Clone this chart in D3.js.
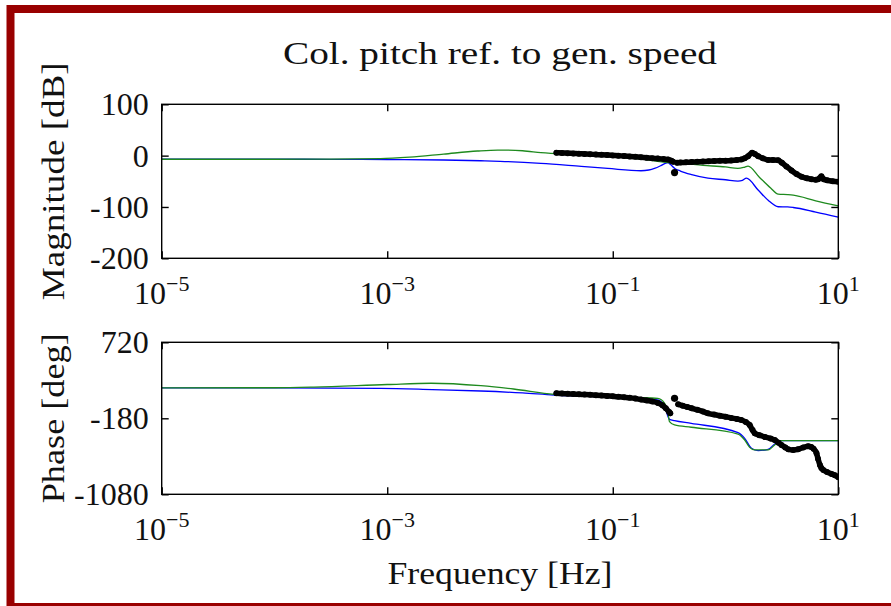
<!DOCTYPE html>
<html>
<head>
<meta charset="utf-8">
<script src="https://cdn.jsdelivr.net/npm/d3@7"></script>
<style>
  html, body { margin: 0; padding: 0; background: #fff; }
  svg { display: block; }
  text { font-family: "Liberation Serif", "DejaVu Serif", serif; fill: #111; }
</style>
</head>
<body>
<svg id="chart" width="891" height="606"></svg>
<script>
// Frequency decades shown on the x axis (log10 Hz)
const xTickExps = [-5, -3, -1, 1];
const magTicks = [100, 0, -100, -200];
const phaseTicks = [720, -180, -1080];

// Model responses (blue and green), frequency as log10(Hz)
const blueMagLogHz = [-5, -4, -3.5, -3, -2.5, -2.17, -2, -1.637, -1.28, -1.045, -0.75, -0.68, -0.63, -0.57, -0.535, -0.51, -0.49, -0.45, -0.4, -0.3, -0.156, 0, 0.11, 0.15, 0.185, 0.289, 0.378, 0.467, 0.55, 0.6, 0.8, 1.0];
const blueMag =      [-7, -7, -7.2, -7.5, -8.5, -10, -11, -15, -21, -25, -29.4, -28, -25, -19, -15, -13.8, -17, -25, -30, -37, -44, -47, -49.5, -48, -44, -67, -87, -99.6, -100, -101, -110, -120];

const greenMagLogHz = [-5, -4, -3.5, -3.06, -2.8, -2.5, -2.2, -2.02, -1.8, -1.637, -1.3, -1.0, -0.75, -0.51, -0.4, -0.2, 0, 0.11, 0.16, 0.2, 0.3, 0.4, 0.467, 0.55, 0.6, 0.8, 1.0];
const greenMag =      [-7, -7, -6.8, -6, -3, 3, 9, 10.9, 9.5, 5.7, 2, -2, -6.5, -13.8, -15, -19, -22, -24.8, -23, -20.3, -42, -63, -75, -76, -77, -88, -98];

const bluePhaseLogHz = [-5, -4, -3.06, -2.6, -2.17, -1.8, -1.52, -1.2, -0.8, -0.6, -0.54, -0.497, -0.452, -0.304, 0.111, 0.17, 0.23, 0.289, 0.378, 0.436, 0.496, 1.0];
const bluePhase =      [180, 180, 175, 160, 143, 120, 96, 80, 55, 37, -43, -192, -208, -240, -350, -417, -535, -563, -547, -484, -445, -445];

const greenPhaseLogHz = [-5, -4, -3.65, -3, -2.61, -2.17, -1.88, -1.52, -1.2, -0.8, -0.6, -0.54, -0.51, -0.497, -0.452, -0.304, 0.111, 0.17, 0.214, 0.259, 0.378, 0.436, 0.496, 1.0];
const greenPhase =      [180, 182, 190, 220, 235, 206, 167, 104, 88, 66, 57, -2, -120, -220, -259, -286, -366, -437, -524, -555, -555, -496, -445, -445];

// Measured response (black markers), split into runs
const measMagLogHz = [
  [-1.50, -1.45, -1.40, -1.35, -1.30, -1.25, -1.20, -1.15, -1.10, -1.05, -1.00, -0.95, -0.90, -0.85, -0.80, -0.75, -0.70, -0.65, -0.60, -0.55, -0.51, -0.48, -0.465],
  [-0.452],
  [-0.43, -0.40, -0.35, -0.30, -0.25, -0.20, -0.15, -0.10, -0.05, 0.0, 0.05, 0.10, 0.14, 0.17, 0.20, 0.236, 0.26, 0.29, 0.33, 0.378, 0.42, 0.467, 0.50, 0.54, 0.585, 0.63, 0.674, 0.72, 0.763, 0.80, 0.822, 0.85, 0.87, 0.90, 0.95, 1.0]
];
const measMag = [
  [5.5, 5.2, 4.8, 4.3, 3.8, 3.2, 2.7, 2.2, 1.7, 1.2, 0.5, -0.2, -0.8, -1.5, -2.3, -3.2, -4.0, -5.0, -5.8, -6.8, -7.5, -10, -12],
  [-33],
  [-14, -13.5, -13, -12.5, -12, -11.5, -11, -10.5, -10.2, -10, -9.5, -8.5, -7.3, -5, -1, 5.5, 3, -1, -5, -8.6, -8.6, -9, -14, -21, -29, -36, -41, -44, -46, -47, -46, -40, -46, -48, -50, -51]
];

const measPhaseLogHz = [
  [-1.50, -1.45, -1.40, -1.35, -1.30, -1.25, -1.20, -1.15, -1.10, -1.05, -1.00, -0.95, -0.90, -0.85, -0.80, -0.75, -0.70, -0.65, -0.60, -0.56, -0.53, -0.50, -0.49],
  [-0.452],
  [-0.42, -0.38, -0.34, -0.30, -0.25, -0.20, -0.156, -0.10, -0.05, 0.0, 0.05, 0.10, 0.14, 0.18, 0.214, 0.24, 0.259, 0.30, 0.348, 0.40, 0.436, 0.47, 0.496, 0.53, 0.556, 0.60, 0.644, 0.69, 0.733, 0.76, 0.78, 0.807, 0.82, 0.837, 0.85, 0.867, 0.90, 0.941, 0.97, 1.0]
];
const measPhase = [
  [116, 113, 110, 107, 104, 101, 98, 94, 90, 85, 80, 74, 68, 62, 54, 42, 32, 20, 2, -25, -60, -105, -120],
  [57],
  [-14, -30, -45, -61, -80, -100, -121, -136, -150, -161, -175, -188, -200, -225, -259, -320, -358, -380, -401, -420, -437, -470, -496, -525, -547, -555, -547, -525, -510, -520, -540, -594, -660, -733, -770, -792, -815, -839, -855, -878]
];

const svg = d3.select("#chart");

// Dark red frame
svg.append("rect")
  .attr("x", 10.5).attr("y", 9)
  .attr("width", 900).attr("height", 598)
  .attr("fill", "none")
  .attr("stroke", "#990000")
  .attr("stroke-width", 8);

const left = 161.7, right = 838.3;
const x = d3.scaleLog().domain([1e-5, 10]).range([left, right]);
const hz = e => Math.pow(10, e);

const panels = [
  { top: 104.3, bottom: 258.3, domain: [-200, 100], ticks: magTicks, label: "Magnitude [dB]", labelLen: 238,
    model: [[blueMagLogHz, blueMag, "#0000ff"], [greenMagLogHz, greenMag, "#1e8a1e"]],
    meas: [measMagLogHz, measMag] },
  { top: 342.3, bottom: 494.3, domain: [-1080, 720], ticks: phaseTicks, label: "Phase [deg]", labelLen: 170,
    model: [[bluePhaseLogHz, bluePhase, "#0000ff"], [greenPhaseLogHz, greenPhase, "#1e8a1e"]],
    meas: [measPhaseLogHz, measPhase] }
];

const tickLen = 7;
const fontSize = 32;

panels.forEach(p => {
  const y = d3.scaleLinear().domain(p.domain).range([p.bottom, p.top]);
  const g = svg.append("g");
  const clipId = "clip" + Math.round(p.top);
  svg.append("clipPath").attr("id", clipId)
    .append("rect").attr("x", left).attr("y", p.top)
    .attr("width", right - left).attr("height", p.bottom - p.top);

  const plot = g.append("g").attr("clip-path", `url(#${clipId})`);
  const line = d3.line()
    .x(d => x(hz(d[0]))).y(d => y(d[1]))
    .curve(d3.curveMonotoneX);

  // Model curves
  p.model.forEach(([xs, ys, color]) => {
    plot.append("path")
      .datum(xs.map((e, i) => [e, ys[i]]))
      .attr("d", line)
      .attr("fill", "none")
      .attr("stroke", color)
      .attr("stroke-width", 1.3);
  });

  // Measured markers
  const [mx, my] = p.meas;
  mx.forEach((xs, k) => {
    const pts = xs.map((e, i) => [e, my[k][i]]);
    if (pts.length > 1) {
      plot.append("path")
        .datum(pts)
        .attr("d", line)
        .attr("fill", "none")
        .attr("stroke", "#000")
        .attr("stroke-width", 5.5)
        .attr("stroke-linejoin", "round")
        .attr("stroke-linecap", "round");
    }
    plot.selectAll(null).data(pts).enter().append("circle")
      .attr("cx", d => x(hz(d[0])))
      .attr("cy", d => y(d[1]))
      .attr("r", pts.length > 1 ? 3 : 3.6)
      .attr("fill", "#000");
  });

  // Frame
  g.append("rect")
    .attr("x", left).attr("y", p.top)
    .attr("width", right - left).attr("height", p.bottom - p.top)
    .attr("fill", "none").attr("stroke", "#000").attr("stroke-width", 1.4);

  // Inward ticks on all sides
  const yAxisL = d3.axisLeft(y).tickValues(p.ticks).tickSizeInner(-tickLen).tickSizeOuter(0).tickFormat("");
  const yAxisR = d3.axisRight(y).tickValues(p.ticks).tickSizeInner(-tickLen).tickSizeOuter(0).tickFormat("");
  const xAxisB = d3.axisBottom(x).tickValues(xTickExps.map(hz)).tickSizeInner(-tickLen).tickSizeOuter(0).tickFormat("");
  const xAxisT = d3.axisTop(x).tickValues(xTickExps.map(hz)).tickSizeInner(-tickLen).tickSizeOuter(0).tickFormat("");
  [[yAxisL, `translate(${left},0)`], [yAxisR, `translate(${right},0)`],
   [xAxisB, `translate(0,${p.bottom})`], [xAxisT, `translate(0,${p.top})`]].forEach(([ax, tr]) => {
    const a = g.append("g").attr("transform", tr).call(ax);
    a.select(".domain").remove();
    a.selectAll("line").attr("stroke", "#000").attr("stroke-width", 1.4);
  });

  // Y tick labels
  g.selectAll(null).data(p.ticks).enter().append("text")
    .attr("x", left - 13)
    .attr("y", d => y(d) + 11)
    .attr("text-anchor", "end")
    .attr("font-size", fontSize)
    .text(d => String(d));

  // X tick labels as powers of ten
  xTickExps.forEach(e => {
    const t = g.append("text")
      .attr("x", x(hz(e)))
      .attr("y", p.bottom + 46)
      .attr("text-anchor", "middle")
      .attr("font-size", fontSize);
    t.append("tspan").text("10");
    t.append("tspan").attr("font-size", 22).attr("dy", -13)
      .text(e < 0 ? "\u2212" + Math.abs(e) : String(e));
  });

  // Y axis label
  svg.append("text")
    .attr("transform", `translate(64,${(p.top + p.bottom) / 2}) rotate(-90)`)
    .attr("text-anchor", "middle")
    .attr("font-size", fontSize)
    .attr("textLength", p.labelLen)
    .attr("lengthAdjust", "spacingAndGlyphs")
    .text(p.label);
});

// Title and x axis label
svg.append("text")
  .attr("x", (left + right) / 2).attr("y", 64)
  .attr("text-anchor", "middle")
  .attr("font-size", fontSize)
  .attr("textLength", 434)
  .attr("lengthAdjust", "spacingAndGlyphs")
  .text("Col. pitch ref. to gen. speed");

svg.append("text")
  .attr("x", (left + right) / 2).attr("y", 584)
  .attr("text-anchor", "middle")
  .attr("font-size", fontSize)
  .attr("textLength", 225)
  .attr("lengthAdjust", "spacingAndGlyphs")
  .text("Frequency [Hz]");
</script>
</body>
</html>
